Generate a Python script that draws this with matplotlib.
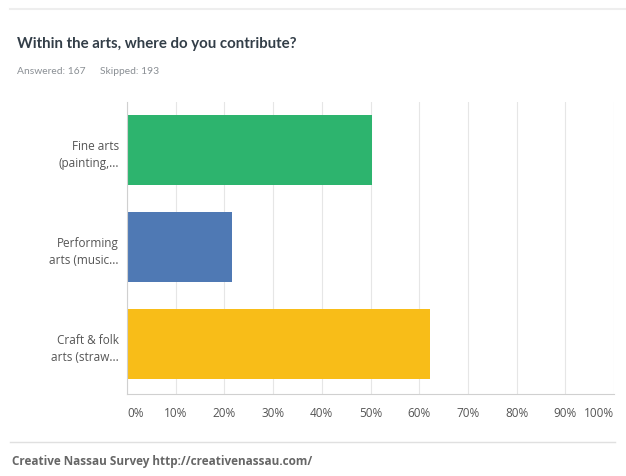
import matplotlib.pyplot as plt
from matplotlib.lines import Line2D

categories = ["Fine arts\n(painting,...", "Performing\narts (music...", "Craft & folk\narts (straw..."]
percents = [50.3, 21.6, 62.3]
colors = ["#2db46e", "#4f79b4", "#f8bd18"]
ticks = list(range(0, 101, 10))
tick_labels = [f"{t}%" for t in ticks]

plt.rcParams['font.family'] = ['Open Sans', 'DejaVu Sans']

fig = plt.figure(figsize=(6.26, 4.77), dpi=100)
ax = fig.add_axes([127 / 626, 1 - 395 / 477, 487 / 626, 292 / 477])

pos = list(range(len(categories)))
ax.barh(pos, percents, height=0.73, color=colors, zorder=3)
ax.set_xlim(0, 100)
ax.set_ylim(2.515, -0.495)
ax.set_yticks(pos)
ax.set_yticklabels(categories, fontsize=8.5, color="#555555", linespacing=1.4)
ax.set_xticks(ticks)
xl = ax.set_xticklabels(tick_labels, fontsize=8.5, color="#555555")
xl[0].set_horizontalalignment("left")
xl[-1].set_horizontalalignment("right")
ax.tick_params(axis="both", length=0)
ax.tick_params(axis="x", pad=9)
ax.tick_params(axis="y", pad=6)
ax.grid(axis="x", color="#e6e6e6", linewidth=0.8, zorder=0)
for s in ["top", "right"]:
    ax.spines[s].set_visible(False)
ax.spines["left"].set_color("#d0d0d0")
ax.spines["bottom"].set_color("#d0d0d0")
ax.spines["left"].set_zorder(4)

# header / footer
fig.add_artist(Line2D([10 / 626, 1], [1 - 10 / 477] * 2, color="#eeeeee", linewidth=1.5))
fig.text(17 / 626, 1 - 44 / 477, "Within the arts, where do you contribute?", fontsize=10.8,
         fontweight="bold", color="#333e48", va="center", family=["Lato", "DejaVu Sans"])
fig.text(17 / 626, 1 - 72 / 477, "Answered: 167", fontsize=7.4,
         color="#8a8f94", va="center", family=["Lato", "DejaVu Sans"])
fig.text(100 / 626, 1 - 72 / 477, "Skipped: 193", fontsize=7.4,
         color="#8a8f94", va="center", family=["Lato", "DejaVu Sans"])
fig.add_artist(Line2D([10 / 626, 615 / 626], [1 - 443 / 477] * 2, color="#e0e0e0", linewidth=1))
fig.text(12 / 626, 1 - 462 / 477, "Creative Nassau Survey http://creativenassau.com/", fontsize=8.5,
         fontweight="bold", color="#666666", va="center")

fig.savefig("out.png", dpi=100)
